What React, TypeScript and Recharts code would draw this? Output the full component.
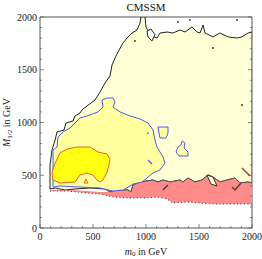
import { ScatterChart, Scatter, XAxis, YAxis, Label } from 'recharts'

type Pt = [number, number]

// contours, [m0, M1/2] in GeV

// black outer contour, left side and top edge (bottom-left to right edge)
const outerUpper: Pt[] = [
    [94, 597], [113, 739], [142, 834], [160, 910], [226, 929], [245, 995], [311, 1014],
    [330, 1062], [377, 1090], [396, 1119], [443, 1156], [519, 1213], [566, 1289],
    [613, 1374], [660, 1441], [679, 1545], [708, 1611], [736, 1668], [783, 1754],
    [821, 1801], [868, 1848], [915, 1877], [943, 1943], [953, 2000], [991, 2000],
    [1000, 1905], [1038, 1830], [1104, 1801], [1132, 1848], [1198, 1858], [1255, 1848],
    [1321, 1877], [1368, 1858], [1434, 1905], [1481, 1858], [1509, 1848], [1538, 1924],
    [1557, 1848], [1632, 1811], [1698, 1848], [1774, 1811], [1858, 1801], [1906, 1811],
    [1962, 1848], [2000, 1858],
]

// upper edge of the red band (right to left)
const redTop: Pt[] = [
    [2000, 427], [1962, 436], [1887, 427], [1840, 474], [1764, 455], [1698, 436],
    [1632, 483], [1585, 502], [1528, 455], [1462, 436], [1396, 474], [1349, 436],
    [1321, 455], [1226, 436], [1160, 455], [1113, 436], [1066, 455], [943, 436],
    [877, 408], [858, 341], [830, 360], [708, 360], [660, 341],
]

// black outer contour, lower left (right to left)
const outerLowerLeft: Pt[] = [
    [613, 370], [472, 379], [330, 370], [236, 360], [142, 379], [94, 370],
]

// thin red strip on the left (right to left)
const redLeftTop: Pt[] = [[566, 341], [443, 351], [283, 360], [113, 360]]

// dotted lower edge of the red band (left to right)
const redBottom: Pt[] = [
    [94, 351], [255, 351], [443, 332], [566, 322], [689, 294], [849, 284], [1009, 284],
    [1104, 294], [1198, 275], [1255, 237], [1387, 246], [1509, 237], [1670, 227],
    [1821, 227], [2000, 227],
]

// blue contour
const blueRegion: Pt[] = [
    [123, 389], [123, 739], [160, 768], [170, 863], [217, 910], [283, 948], [330, 995],
    [377, 1043], [472, 1071], [547, 1100], [594, 1147], [585, 1213], [632, 1232],
    [689, 1232], [708, 1194], [689, 1147], [755, 1100], [849, 1062], [943, 1033],
    [1019, 995], [1066, 929], [1085, 834], [1104, 768], [1132, 720], [1160, 673],
    [1179, 616], [1132, 550], [1066, 521], [1009, 474], [962, 436], [877, 417],
    [849, 398], [783, 360], [689, 351], [566, 379], [377, 389], [189, 398],
]
const blueIsland1: Pt[] = [[1113, 957], [1208, 957], [1208, 900], [1189, 853], [1132, 853], [1123, 900]]
const blueIsland2: Pt[] = [
    [1340, 825], [1368, 806], [1359, 758], [1396, 720], [1396, 682], [1311, 682],
    [1283, 720], [1302, 768], [1330, 787],
]
const blueDash: Pt[] = [[1019, 645], [1057, 607]]
const blueDot: Pt[] = [[1019, 900]]

// orange contour (best fit region)
const coreRegion: Pt[] = [
    [189, 711], [255, 749], [349, 768], [472, 768], [547, 720], [632, 701], [660, 654],
    [651, 597], [632, 531], [594, 455], [566, 436], [538, 455], [500, 502], [443, 521],
    [377, 502], [330, 436], [189, 427], [123, 455], [113, 521], [142, 616],
]
const coreSpot: Pt[] = [[434, 464], [453, 427], [415, 427]]

// small bits
const topLoop: Pt[] = [[1009, 1867], [1047, 1886], [1085, 1830], [1057, 1773], [1019, 1811]]
const notch: Pt[] = [[1575, 502], [1632, 483], [1670, 398], [1613, 417]]
const redDiag: Pt[] = [[1160, 360], [1208, 408]]
const redZig: Pt[] = [[1896, 427], [1840, 360], [1811, 389]]
const sideDiag: Pt[] = [[1906, 569], [1981, 493]]
const blackDots: Pt[] = [[896, 1773], [1632, 1706], [1906, 1166], [1302, 1953], [1415, 1972], [1858, 1972]]

const MAJOR = [0, 500, 1000, 1500, 2000]
const ALL_TICKS = [
    0, 100, 200, 300, 400, 500, 600, 700, 800, 900, 1000,
    1100, 1200, 1300, 1400, 1500, 1600, 1700, 1800, 1900, 2000,
]

const LIGHT = '#FFFFD6'
const MID = '#FFFF9E'
const CORE = '#FFFF14'
const ORANGE = '#F0602C'
const BLUE = '#4D5BF0'
const RED = '#FF8A8A'
const FRAME = '#555'

const serif = '"Liberation Serif", "DejaVu Serif", serif'

const toXY = (pts: Pt[]) => pts.map(([x, y]) => ({ x, y }))

const pathOf = (pts: { x: number; y: number }[], closed: boolean) =>
    pts.map((p, i) => `${i ? 'L' : 'M'}${p.x.toFixed(1)},${p.y.toFixed(1)}`).join(' ') + (closed ? ' Z' : '')

const NoDot = () => <g />

function contour(
    key: string,
    pts: Pt[],
    fill: string,
    stroke: string,
    strokeWidth = 1,
    closed = true,
    dash?: string,
) {
    return (
        <Scatter
            key={key}
            data={toXY(pts)}
            isAnimationActive={false}
            shape={NoDot}
            fill={stroke}
            line={(p: any) => (
                <path
                    d={pathOf(p.points, closed)}
                    fill={fill}
                    stroke={stroke}
                    strokeWidth={strokeWidth}
                    strokeDasharray={dash}
                    strokeLinejoin="round"
                />
            )}
        />
    )
}

function BottomTick(props: any) {
    const { x, y, payload } = props
    const major = MAJOR.includes(payload.value)
    return (
        <g>
            <line x1={x} y1={y} x2={x} y2={y - (major ? 4 : 2)} stroke={FRAME} strokeWidth={0.7} />
            {major && (
                <text x={x} y={y + 12} textAnchor="middle" fontFamily={serif} fontSize={10} fill="#222">
                    {payload.value}
                </text>
            )}
        </g>
    )
}

function LeftTick(props: any) {
    const { x, y, payload } = props
    const major = MAJOR.includes(payload.value)
    return (
        <g>
            <line x1={x} y1={y} x2={x + (major ? 4 : 2)} y2={y} stroke={FRAME} strokeWidth={0.7} />
            {major && (
                <text x={x - 3} y={y + 3.5} textAnchor="end" fontFamily={serif} fontSize={10} fill="#222">
                    {payload.value}
                </text>
            )}
        </g>
    )
}

function TopTick(props: any) {
    const { x, y, payload } = props
    const major = MAJOR.includes(payload.value)
    return <line x1={x} y1={y} x2={x} y2={y + (major ? 4 : 2)} stroke={FRAME} strokeWidth={0.7} />
}

function RightTick(props: any) {
    const { x, y, payload } = props
    const major = MAJOR.includes(payload.value)
    return <line x1={x} y1={y} x2={x - (major ? 4 : 2)} y2={y} stroke={FRAME} strokeWidth={0.7} />
}

export default function App() {
    return (
        <div style={{ position: 'absolute', left: 0, top: 0, width: 262, height: 259, background: '#fff' }}>
            <ScatterChart width={262} height={259} margin={{ top: 0, right: 0, bottom: 0, left: 0 }}>
                <XAxis
                    dataKey="x"
                    type="number"
                    domain={[0, 2000]}
                    allowDataOverflow
                    ticks={ALL_TICKS}
                    interval={0}
                    height={31}
                    tickSize={0}
                    tickMargin={0}
                    tickLine={false}
                    tick={BottomTick}
                    axisLine={{ stroke: FRAME }}
                >
                    <Label
                        content={(p: any) => {
                            const vb = p.viewBox || { x: 40, width: 212 }
                            return (
                                <text x={vb.x + vb.width / 2} y={254.5} textAnchor="middle" fontFamily={serif} fontSize={10} fill="#222">
                                    <tspan fontStyle="italic">m</tspan>
                                    <tspan fontSize={7} dy={1.5}>0</tspan>
                                    <tspan dy={-1.5}> in GeV</tspan>
                                </text>
                            )
                        }}
                    />
                </XAxis>
                <XAxis
                    xAxisId="top"
                    orientation="top"
                    type="number"
                    domain={[0, 2000]}
                    allowDataOverflow
                    ticks={ALL_TICKS}
                    interval={0}
                    height={17}
                    tickSize={0}
                    tickMargin={0}
                    tickLine={false}
                    tick={TopTick}
                    axisLine={{ stroke: FRAME }}
                >
                    <Label
                        content={(p: any) => {
                            const vb = p.viewBox || { x: 40, width: 212 }
                            return (
                                <text x={vb.x + vb.width / 2} y={11} textAnchor="middle" fontFamily={serif} fontSize={11} fill="#111">
                                    CMSSM
                                </text>
                            )
                        }}
                    />
                </XAxis>
                <YAxis
                    dataKey="y"
                    type="number"
                    domain={[0, 2000]}
                    allowDataOverflow
                    ticks={ALL_TICKS}
                    interval={0}
                    width={40}
                    tickSize={0}
                    tickMargin={0}
                    tickLine={false}
                    tick={LeftTick}
                    axisLine={{ stroke: FRAME }}
                >
                    <Label
                        content={(p: any) => {
                            const vb = p.viewBox || { y: 17, height: 211 }
                            const cy = vb.y + vb.height / 2
                            return (
                                <text
                                    x={10}
                                    y={cy}
                                    transform={`rotate(-90 10 ${cy})`}
                                    textAnchor="middle"
                                    fontFamily={serif}
                                    fontSize={10}
                                    fill="#222"
                                >
                                    <tspan fontStyle="italic">M</tspan>
                                    <tspan fontSize={7} dy={2}>1/2</tspan>
                                    <tspan dy={-2}> in GeV</tspan>
                                </text>
                            )
                        }}
                    />
                </YAxis>
                <YAxis
                    yAxisId="right"
                    orientation="right"
                    type="number"
                    domain={[0, 2000]}
                    allowDataOverflow
                    ticks={ALL_TICKS}
                    interval={0}
                    width={10}
                    tickSize={0}
                    tickMargin={0}
                    tickLine={false}
                    tick={RightTick}
                    axisLine={{ stroke: FRAME }}
                />

                {contour('outer', [...outerUpper, ...redTop, ...outerLowerLeft], LIGHT, '#222', 1)}
                {contour('red', [...redTop, ...redLeftTop, ...redBottom], RED, 'none', 0)}
                {contour('redTop', redTop, 'none', '#555', 1, false)}
                {contour('redBottom', redBottom, 'none', '#333', 1, false, '1 2.5')}
                {contour('blue', blueRegion, MID, BLUE, 1)}
                {contour('island1', blueIsland1, MID, BLUE, 1)}
                {contour('island2', blueIsland2, MID, BLUE, 1)}
                {contour('blueDash', blueDash, 'none', BLUE, 1.3, false)}
                {contour('core', coreRegion, CORE, ORANGE, 1)}
                {contour('coreSpot', coreSpot, CORE, ORANGE, 1)}
                {contour('topLoop', topLoop, '#fff', '#222', 1)}
                {contour('notch', notch, LIGHT, '#333', 1)}
                {contour('redDiag', redDiag, 'none', '#333', 1.3, false)}
                {contour('redZig', redZig, 'none', '#444', 1.3, false)}
                {contour('sideDiag', sideDiag, 'none', '#9a4a4a', 1.6, false)}
                <Scatter
                    data={toXY(blackDots)}
                    isAnimationActive={false}
                    shape={(p: any) => <circle cx={p.cx} cy={p.cy} r={0.9} fill="#222" />}
                />
                <Scatter
                    data={toXY(blueDot)}
                    isAnimationActive={false}
                    shape={(p: any) => <circle cx={p.cx} cy={p.cy} r={0.9} fill={BLUE} />}
                />
            </ScatterChart>
        </div>
    )
}
